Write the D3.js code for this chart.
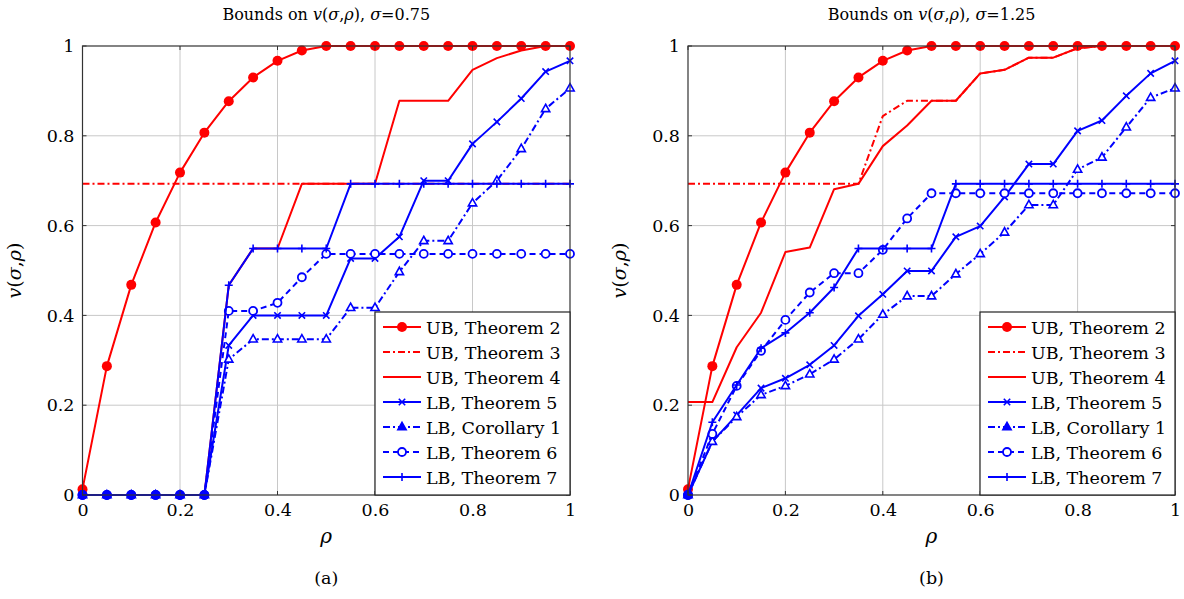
<!DOCTYPE html>
<html>
<head>
<meta charset="utf-8">
<script src="https://cdn.jsdelivr.net/npm/d3@7"></script>
<style>
  body { margin: 0; background: #fff; }
  svg text { font-family: "DejaVu Serif", serif; fill: #000; }
</style>
</head>
<body>
<svg id="chart" width="1184" height="599"></svg>
<script>
// rho grid
const rho = [0, 0.05, 0.1, 0.15, 0.2, 0.25, 0.3, 0.35, 0.4, 0.45, 0.5,
             0.55, 0.6, 0.65, 0.7, 0.75, 0.8, 0.85, 0.9, 0.95, 1];
const xTicks = [0, 0.2, 0.4, 0.6, 0.8, 1];
const yTicks = [0, 0.2, 0.4, 0.6, 0.8, 1];

// UB Theorem 2 (same in both panels)
const ubThm2 = [0.013, 0.287, 0.468, 0.607, 0.718, 0.807, 0.877, 0.930, 0.967, 0.990, 1,
                1, 1, 1, 1, 1, 1, 1, 1, 1, 1];

// panel (a), sigma = 0.75
const ubThm3A = [0.693, 0.693, 0.693, 0.693, 0.693, 0.693, 0.693, 0.693, 0.693, 0.693, 0.693,
                 0.693, 0.693, 0.693, 0.693, 0.693, 0.693, 0.693, 0.693, 0.693, 0.693];
const ubThm4A = [0, 0, 0, 0, 0, 0, 0.467, 0.549, 0.549, 0.693, 0.693,
                 0.693, 0.693, 0.878, 0.878, 0.878, 0.947, 0.973, 0.99, 1, 1];
const lbThm5A = [0, 0, 0, 0, 0, 0, 0.333, 0.4, 0.4, 0.4, 0.4,
                 0.527, 0.527, 0.575, 0.70, 0.70, 0.782, 0.831, 0.883, 0.943, 0.967];
const lbCor1A = [0, 0, 0, 0, 0, 0, 0.302, 0.347, 0.347, 0.347, 0.347,
                 0.417, 0.417, 0.497, 0.566, 0.566, 0.65, 0.70, 0.771, 0.86, 0.906];
const lbThm6A = [0, 0, 0, 0, 0, 0, 0.41, 0.41, 0.428, 0.485, 0.537,
                 0.537, 0.537, 0.537, 0.537, 0.537, 0.537, 0.537, 0.537, 0.537, 0.537];
const lbThm7A = [0, 0, 0, 0, 0, 0, 0.467, 0.549, 0.549, 0.549, 0.549,
                 0.693, 0.693, 0.693, 0.693, 0.693, 0.693, 0.693, 0.693, 0.693, 0.693];
const zeroDotsA = [0, 0, 0, 0, 0, 0];

// panel (b), sigma = 1.25
const ubThm3B = [0.693, 0.693, 0.693, 0.693, 0.693, 0.693, 0.693, 0.693, 0.844, 0.878, 0.878,
                 0.878, 0.939, 0.947, 0.974, 0.974, 0.995, 1, 1, 1, 1];
const ubThm4B = [0.207, 0.207, 0.329, 0.406, 0.541, 0.551, 0.681, 0.693, 0.777, 0.823, 0.878,
                 0.878, 0.939, 0.947, 0.974, 0.974, 0.995, 1, 1, 1, 1];
const lbThm5B = [0, 0.119, 0.178, 0.238, 0.26, 0.29, 0.333, 0.399, 0.447, 0.499, 0.499,
                 0.575, 0.599, 0.664, 0.737, 0.737, 0.811, 0.834, 0.889, 0.939, 0.967];
const lbCor1B = [0, 0.119, 0.174, 0.223, 0.243, 0.269, 0.302, 0.347, 0.402, 0.443, 0.443,
                 0.492, 0.537, 0.585, 0.646, 0.646, 0.725, 0.752, 0.819, 0.885, 0.906];
const lbThm6B = [0, 0.136, 0.243, 0.321, 0.39, 0.451, 0.494, 0.494, 0.546, 0.616, 0.672,
                 0.672, 0.672, 0.672, 0.672, 0.672, 0.672, 0.672, 0.672, 0.672, 0.672];
const lbThm7B = [0, 0.162, 0.245, 0.327, 0.361, 0.406, 0.462, 0.549, 0.549, 0.549, 0.549,
                 0.693, 0.693, 0.693, 0.693, 0.693, 0.693, 0.693, 0.693, 0.693, 0.693];
const zeroDotsB = [0];

const legendLabels = ["UB, Theorem 2", "UB, Theorem 3", "UB, Theorem 4", "LB, Theorem 5",
                      "LB, Corollary 1", "LB, Theorem 6", "LB, Theorem 7"];

const RED = "#ff0000", BLUE = "#0000ff";
const FONT = "DejaVu Serif";

// style per series (same order as legendLabels)
const styles = [
    {color: RED, dash: null, mark: "dot"},
    {color: RED, dash: "7,3,2,3", mark: null},
    {color: RED, dash: null, mark: null},
    {color: BLUE, dash: null, mark: "x"},
    {color: BLUE, dash: "7,3,2,3", mark: "tri"},
    {color: BLUE, dash: "6,4", mark: "circ"},
    {color: BLUE, dash: null, mark: "plus"}
];

const panels = [
    {x0: 82.5, x1: 570, sigma: "0.75", tag: "(a)", series: [ubThm2, ubThm3A, ubThm4A, lbThm5A, lbCor1A, lbThm6A, lbThm7A], zeros: zeroDotsA},
    {x0: 688, x1: 1175, sigma: "1.25", tag: "(b)", series: [ubThm2, ubThm3B, ubThm4B, lbThm5B, lbCor1B, lbThm6B, lbThm7B], zeros: zeroDotsB}
];

const svg = d3.select("#chart");
const yTop = 46, yBot = 495;

function drawMark(g, type, color, cx, cy, legend) {
    if (type == "dot") {
        g.append("circle").attr("cx", cx).attr("cy", cy).attr("r", 5).attr("fill", color);
    } else if (type == "x") {
        let s = 3.2;
        g.append("path").attr("d", `M${cx-s},${cy-s}L${cx+s},${cy+s}M${cx-s},${cy+s}L${cx+s},${cy-s}`)
            .attr("stroke", color).attr("stroke-width", 1.6).attr("fill", "none");
    } else if (type == "tri") {
        let s = 4.6;
        g.append("path").attr("d", `M${cx},${cy-s}L${cx+s*0.9},${cy+s*0.6}L${cx-s*0.9},${cy+s*0.6}Z`)
            .attr("stroke", color).attr("stroke-width", 1.6)
            .attr("fill", legend ? color : "#fff");
    } else if (type == "circ") {
        g.append("circle").attr("cx", cx).attr("cy", cy).attr("r", 4)
            .attr("stroke", color).attr("stroke-width", 1.8).attr("fill", "#fff");
    } else if (type == "plus") {
        let s = 4;
        g.append("path").attr("d", `M${cx-s},${cy}L${cx+s},${cy}M${cx},${cy-s}L${cx},${cy+s}`)
            .attr("stroke", color).attr("stroke-width", 1.6).attr("fill", "none");
    }
}

panels.forEach(function(p) {
    let x = d3.scaleLinear().domain([0, 1]).range([p.x0, p.x1]);
    let y = d3.scaleLinear().domain([0, 1]).range([yBot, yTop]);
    let g = svg.append("g");
    let cxm = (p.x0 + p.x1) / 2;

    // grid
    g.append("g").selectAll("line").data(xTicks.slice(1, -1)).enter().append("line")
        .attr("x1", d => x(d)).attr("x2", d => x(d)).attr("y1", yTop).attr("y2", yBot)
        .attr("stroke", "#c8c8c8").attr("stroke-width", 1);
    g.append("g").selectAll("line").data(yTicks.slice(1, -1)).enter().append("line")
        .attr("y1", d => y(d)).attr("y2", d => y(d)).attr("x1", p.x0).attr("x2", p.x1)
        .attr("stroke", "#c8c8c8").attr("stroke-width", 1);

    // axes (tick labels)
    let ax = g.append("g").attr("transform", `translate(0,${yBot})`)
        .call(d3.axisBottom(x).tickValues(xTicks).tickSize(0).tickPadding(9).tickFormat(d3.format("~g")));
    let ay = g.append("g").attr("transform", `translate(${p.x0},0)`)
        .call(d3.axisLeft(y).tickValues(yTicks).tickSize(0).tickPadding(8).tickFormat(d3.format("~g")));
    [ax, ay].forEach(function(a) {
        a.attr("font-family", FONT).attr("font-size", 17.5);
        a.select(".domain").remove();
    });

    // clip
    let clipId = "clip" + p.tag.replace(/\W/g, "");
    svg.append("clipPath").attr("id", clipId).append("rect")
        .attr("x", p.x0 - 6).attr("y", yTop - 6).attr("width", p.x1 - p.x0 + 12).attr("height", yBot - yTop + 12);

    let plot = g.append("g").attr("clip-path", `url(#${clipId})`);
    let line = d3.line().x((d, i) => x(rho[i])).y(d => y(d));

    p.series.forEach(function(vals, k) {
        let st = styles[k];
        plot.append("path").datum(vals).attr("d", line)
            .attr("fill", "none").attr("stroke", st.color).attr("stroke-width", 2)
            .attr("stroke-linejoin", "round")
            .attr("stroke-dasharray", st.dash);
        if (st.mark) {
            vals.forEach(function(v, i) {
                drawMark(plot, st.mark, st.color, x(rho[i]), y(v), false);
            });
        }
    });
    // extra blue dots at zero
    p.zeros.forEach(function(v, i) {
        plot.append("circle").attr("cx", x(rho[i])).attr("cy", y(v)).attr("r", 5).attr("fill", BLUE);
    });

    // frame with inner ticks
    g.append("rect").attr("x", p.x0).attr("y", yTop).attr("width", p.x1 - p.x0).attr("height", yBot - yTop)
        .attr("fill", "none").attr("stroke", "#333").attr("stroke-width", 1.2);
    yTicks.forEach(function(t) {
        g.append("line").attr("x1", p.x0).attr("x2", p.x0 + 4).attr("y1", y(t)).attr("y2", y(t)).attr("stroke", "#333");
        g.append("line").attr("x1", p.x1 - 4).attr("x2", p.x1).attr("y1", y(t)).attr("y2", y(t)).attr("stroke", "#333");
    });
    xTicks.forEach(function(t) {
        g.append("line").attr("x1", x(t)).attr("x2", x(t)).attr("y1", yBot).attr("y2", yBot - 4).attr("stroke", "#333");
        g.append("line").attr("x1", x(t)).attr("x2", x(t)).attr("y1", yTop).attr("y2", yTop + 4).attr("stroke", "#333");
    });

    // legend
    let lw = 195, lh = 183;
    let lg = g.append("g").attr("transform", `translate(${p.x1 - lw},${yBot - lh})`);
    lg.append("rect").attr("width", lw).attr("height", lh).attr("fill", "#fff")
        .attr("stroke", "#222").attr("stroke-width", 1.2);
    legendLabels.forEach(function(lab, k) {
        let st = styles[k];
        let ry = 15 + k * 25;
        lg.append("line").attr("x1", 8).attr("x2", 46).attr("y1", ry).attr("y2", ry)
            .attr("stroke", st.color).attr("stroke-width", 2).attr("stroke-dasharray", st.dash);
        if (st.mark) drawMark(lg, st.mark, st.color, 27, ry, true);
        lg.append("text").attr("x", 51).attr("y", ry + 6.5).attr("font-size", 17.5).text(lab);
    });

    // title
    let t = g.append("text").attr("x", cxm).attr("y", 19.5).attr("text-anchor", "middle").attr("font-size", 16);
    t.append("tspan").text("Bounds on ");
    t.append("tspan").attr("font-style", "italic").text("v");
    t.append("tspan").text("(");
    t.append("tspan").attr("font-style", "italic").text("σ");
    t.append("tspan").text(",");
    t.append("tspan").attr("font-style", "italic").text("ρ");
    t.append("tspan").text("), ");
    t.append("tspan").attr("font-style", "italic").text("σ");
    t.append("tspan").text("=" + p.sigma);

    // y label
    let yl = g.append("text").attr("transform", `translate(${p.x0 - 62},${(yTop + yBot) / 2}) rotate(-90)`)
        .attr("text-anchor", "middle").attr("font-size", 19);
    yl.append("tspan").attr("font-style", "italic").text("v");
    yl.append("tspan").text("(");
    yl.append("tspan").attr("font-style", "italic").text("σ");
    yl.append("tspan").text(",");
    yl.append("tspan").attr("font-style", "italic").text("ρ");
    yl.append("tspan").text(")");

    // x label
    g.append("text").attr("x", cxm).attr("y", 543).attr("text-anchor", "middle")
        .attr("font-size", 20).attr("font-style", "italic").text("ρ");

    // sub caption
    g.append("text").attr("x", cxm).attr("y", 584).attr("text-anchor", "middle")
        .attr("font-size", 17.5).text(p.tag);
});
</script>
</body>
</html>
